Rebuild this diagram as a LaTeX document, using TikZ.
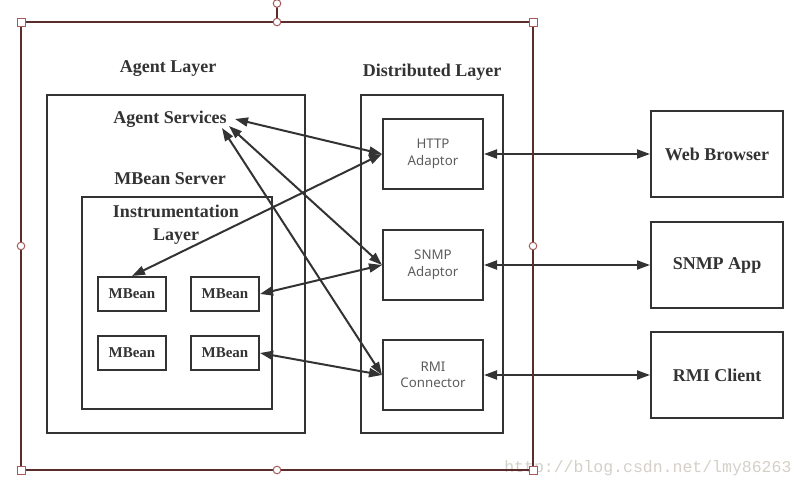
\documentclass[tikz,border=0pt]{standalone}
\usepackage{fontspec}
\usepackage{xcolor}
\setmainfont{Liberation Serif}
\newfontfamily\uifont{Noto Sans}
\newfontfamily\markfont{Liberation Mono}
\usetikzlibrary{arrows.meta}
\definecolor{ink}{HTML}{333333}
\definecolor{selred}{HTML}{5C2B2B}
\definecolor{handlered}{HTML}{A85A5A}
\definecolor{wmark}{HTML}{D4D0C8}

\begin{document}
\begin{tikzpicture}[x=1pt,y=-1pt,
    box/.style={draw=ink,line width=2pt,inner sep=0pt,align=center,text=ink},
    mbean/.style={box,minimum width=68pt,minimum height=34pt,font=\bfseries\fontsize{15}{17}\selectfont},
    adaptor/.style={box,minimum width=100pt,minimum height=70pt,text=ink!80,font=\uifont\fontsize{13.3}{16.5}\selectfont},
    client/.style={box,minimum width=132pt,minimum height=86pt,font=\bfseries\fontsize{18}{20}\selectfont},
    title/.style={text=ink,align=center,font=\bfseries\fontsize{18}{23}\selectfont},
    link/.style={draw=ink,line width=2pt,{Triangle[length=13pt,width=9pt]}-{Triangle[length=13pt,width=9pt]}},
    grip/.style={draw=handlered,fill=white,line width=1pt}]
        \useasboundingbox (0,0) rectangle (805,490);

        % layers
        \node[box,minimum width=258pt,minimum height=338pt] (agent) at (176,264) {};
        \node[box,minimum width=190pt,minimum height=212pt] (instr) at (177,303) {};
        \node[box,minimum width=142pt,minimum height=338pt] (dist) at (432,264) {};

        \node[title] (agentlbl) at (168,68.5) {Agent Layer};
        \node[title] (distlbl) at (432,72) {Distributed Layer};
        \node[title] (services) at (170,119) {Agent Services};
        \node[title] (server) at (170,179) {MBean Server};
        \node[title] (instrlbl) at (176,225) {Instrumentation\\Layer};

        % mbeans
        \node[mbean] (mbA) at (132,294) {MBean};
        \node[mbean] (mbB) at (225,294) {MBean};
        \node[mbean] (mbC) at (132,353) {MBean};
        \node[mbean] (mbD) at (225,353) {MBean};

        % adaptors and clients
        \node[adaptor] (http) at (433,154) {HTTP\\Adaptor};
        \node[adaptor] (snmp) at (433,265) {SNMP\\Adaptor};
        \node[adaptor] (rmi) at (433,375) {RMI\\Connector};

        \node[client] (web) at (717,154) {Web Browser};
        \node[client] (app) at (717,265) {SNMP App};
        \node[client] (cli) at (717,375) {RMI Client};

        \coordinate (sA) at (235,119);
        \coordinate (sB) at (229,126);
        \coordinate (sC) at (222,128);

        \draw[link] (sA) -- (http.west);
        \draw[link] (sB) -- (snmp.west);
        \draw[link] (sC) -- (rmi.west);
        \draw[link] (mbA.north) -- (http.west);
        \draw[link] (mbB.east) -- (snmp.west);
        \draw[link] (mbD.east) -- (rmi.west);

        \draw[link] (http.east) -- (web.west);
        \draw[link] (snmp.east) -- (app.west);
        \draw[link] (rmi.east) -- (cli.west);

        % selection frame
        \node[text=wmark,font=\markfont\fontsize{16.5}{18}\selectfont,anchor=east] (mark) at (795,468) {http://blog.csdn.net/lmy86263};
        \draw[selred,line width=2pt] (21,22) rectangle (533,470);
        \draw[selred,line width=1.2pt] (277,7) -- (277,22);
        \draw[grip] (277,3.5) circle [radius=3.8];
        \foreach \x/\y in {277/22,21/246,533/246,277/470}
          \draw[grip] (\x,\y) circle [radius=3.8];
        \foreach \x/\y in {21/22,533/22,21/470,533/470}
          \draw[grip] (\x-4,\y-4) rectangle (\x+4,\y+4);
      \end{tikzpicture}
\end{document}
